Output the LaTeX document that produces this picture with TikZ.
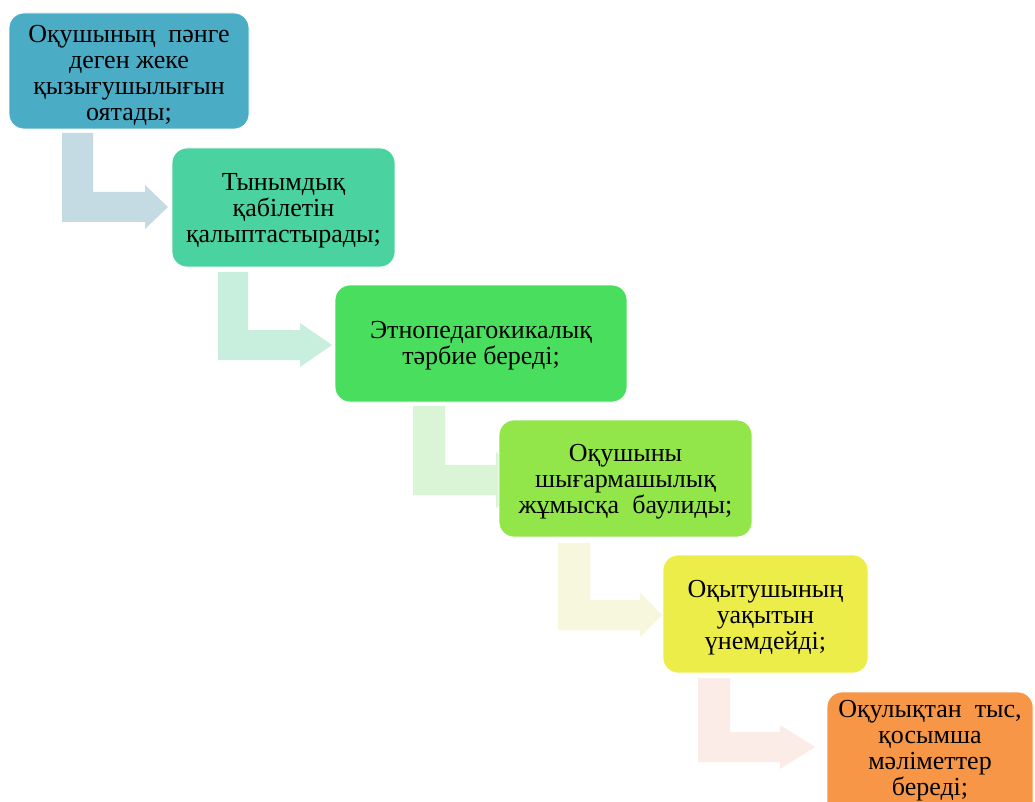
\documentclass[tikz,border=0pt]{standalone}
\usepackage{fontspec}
\setmainfont{Liberation Serif}
\definecolor{cA}{RGB}{75,172,198}
\definecolor{cB}{RGB}{74,210,160}
\definecolor{cC}{RGB}{74,222,94}
\definecolor{cD}{RGB}{146,230,74}
\definecolor{cE}{RGB}{237,237,74}
\definecolor{cF}{RGB}{247,150,70}
\definecolor{aA}{RGB}{196,219,228}
\definecolor{aB}{RGB}{200,238,222}
\definecolor{aC}{RGB}{218,245,213}
\definecolor{aD}{RGB}{246,247,220}
\definecolor{aE}{RGB}{252,236,232}
\tikzset{
  stepbox/.style={draw=white, line width=0.8pt, rounded corners=15pt},
  boxtext/.style={align=center, font=\fontsize{26}{26}\selectfont, inner sep=0pt},
}
% bent arrow: L,R (bar x), T (top), B (bottom), H (head base x), P (tip x), hh (head half height), colour
\newcommand{\bentarrow}[8]{%
  \fill[#8] (#1,#3) -- (#2,#3) -- (#2,#4-30) -- (#5,#4-30) -- (#5,#4-15-#7)
    -- (#6,#4-15) -- (#5,#4-15+#7) -- (#5,#4) -- (#1,#4) -- cycle;}
\begin{document}
\begin{tikzpicture}[x=1pt,y=-1pt]
\useasboundingbox (0,0) rectangle (1035,802);
\clip (0,0) rectangle (1035,802);
\fill[white] (0,0) rectangle (1035,802);
% arrows
\bentarrow{62}{93}{133}{222}{145}{168}{22}{aA}
\bentarrow{218}{248}{272}{360}{300}{332}{22}{aB}
\bentarrow{413}{445}{406}{495}{496}{528}{28}{aC}
\bentarrow{558}{590}{543}{630}{640}{662}{22}{aD}
\bentarrow{698}{730}{678}{762}{780}{815}{22}{aE}
% boxes
\draw[stepbox, fill=cA] (9,13) rectangle (249,129);
\node[boxtext] (b1) at (129,75) {Оқушының\ \ пәнге\\деген жеке\\қызығушылығын\\оятады;};
\draw[stepbox, fill=cB] (172,148) rectangle (395,267);
\node[boxtext] (b2) at (283.5,211) {Тынымдық\\қабілетін\\қалыптастырады;};
\draw[stepbox, fill=cC] (335,285) rectangle (627,402);
\node[boxtext] (b3) at (481,346) {Этнопедагокикалық\\тәрбие береді;};
\draw[stepbox, fill=cD] (499,420) rectangle (752,537);
\node[boxtext] (b4) at (625.5,482) {Оқушыны\\шығармашылық\\жұмысқа\ \ баулиды;};
\draw[stepbox, fill=cE] (663,555) rectangle (868,673);
\node[boxtext] (b5) at (765.5,618) {Оқытушының\\уақытын\\үнемдейді;};
\draw[stepbox, fill=cF] (827,692) rectangle (1033,830);
\node[boxtext, anchor=north] (b6) at (930,700) {Оқулықтан\ \ тыс,\\қосымша\\мәліметтер\\береді;};
\end{tikzpicture}
\end{document}
